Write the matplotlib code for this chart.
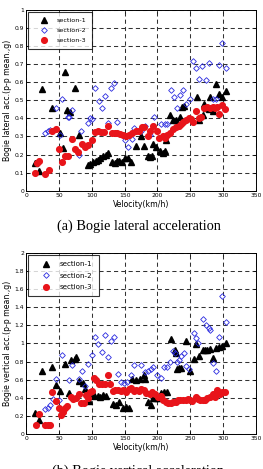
import matplotlib
matplotlib.use("Agg")
import matplotlib.pyplot as plt
from matplotlib.ticker import MultipleLocator, FuncFormatter

# ---------------- data: lateral (top) ----------------
lat_s1_v = [14, 20, 25, 40, 51, 56, 60, 63, 67, 75, 81,
            94, 98, 102, 106, 110, 113, 117, 121, 125,
            131, 135, 138, 142, 146, 151, 155, 160,
            167, 175, 179, 185, 188, 191, 194, 198, 204, 208, 211, 213,
            219, 224, 228, 234, 238, 241, 260, 264, 269, 271, 274, 278,
            280, 284, 289, 293, 298, 304]
lat_s1_y = [0.155, 0.11, 0.565, 0.46, 0.32, 0.235, 0.655, 0.445, 0.435, 0.57, 0.31,
            0.14, 0.15, 0.16, 0.165, 0.17, 0.18, 0.19, 0.2, 0.21,
            0.16, 0.155, 0.165, 0.165, 0.16, 0.18, 0.18, 0.16,
            0.25, 0.30, 0.25, 0.19, 0.185, 0.19, 0.26, 0.24, 0.22, 0.21, 0.22, 0.28,
            0.42, 0.39, 0.39, 0.41, 0.465, 0.47, 0.52, 0.39, 0.42, 0.48, 0.455, 0.45,
            0.52, 0.44, 0.59, 0.535, 0.52, 0.55]

lat_s2_v = [29, 33, 37, 45, 51, 55, 64, 65, 70, 80, 84, 95, 97, 100, 105, 111, 115,
            120, 125, 130, 134, 138, 151, 155, 161, 165, 175, 181, 189, 195, 206,
            211, 215, 220, 225, 230, 234, 239, 244, 249, 254, 259, 264, 268, 274,
            279, 284, 289, 294, 299, 304]
lat_s2_y = [0.317, 0.332, 0.336, 0.455, 0.31, 0.507, 0.41, 0.406, 0.446, 0.2, 0.33,
            0.376, 0.40, 0.395, 0.566, 0.498, 0.46, 0.525, 0.376, 0.566, 0.594,
            0.382, 0.28, 0.244, 0.284, 0.345, 0.33, 0.36, 0.31, 0.41, 0.37, 0.37,
            0.37, 0.56, 0.52, 0.46, 0.53, 0.555, 0.48, 0.505, 0.72, 0.68, 0.62,
            0.69, 0.61, 0.705, 0.51, 0.51, 0.695, 0.82, 0.68]

lat_s3_v = [14, 17, 20, 29, 35, 40, 45, 50, 55, 60, 64, 70, 75, 79, 85, 90, 95, 100,
            105, 110, 114, 119, 125, 131, 135, 139, 143, 147, 152, 157, 162, 167,
            172, 176, 179, 185, 189, 194, 200, 203, 208, 211, 215, 219, 224, 228,
            233, 236, 239, 244, 248, 251, 254, 259, 264, 267, 271, 276, 280, 284,
            288, 290, 294, 299, 303]
lat_s3_y = [0.10, 0.155, 0.166, 0.09, 0.114, 0.33, 0.343, 0.23, 0.16, 0.19, 0.19,
            0.284, 0.228, 0.215, 0.26, 0.243, 0.253, 0.28, 0.325, 0.33, 0.325,
            0.325, 0.358, 0.32, 0.32, 0.32, 0.315, 0.31, 0.30, 0.31, 0.32, 0.33,
            0.33, 0.355, 0.35, 0.30, 0.33, 0.36, 0.33, 0.29, 0.30, 0.29, 0.31,
            0.32, 0.34, 0.35, 0.36, 0.37, 0.38, 0.39, 0.40, 0.395, 0.38, 0.44,
            0.40, 0.41, 0.46, 0.465, 0.455, 0.465, 0.46, 0.465, 0.425, 0.475, 0.45]

# ---------------- data: vertical (bottom) ----------------
ver_s1_v = [14, 20, 24, 40, 45, 51, 60, 65, 69, 74, 76, 81, 86, 90, 96, 100, 104,
            109, 113, 117, 122, 132, 137, 142, 147, 152, 157, 161, 167, 173, 179,
            181, 185, 190, 194, 198, 201, 205, 210, 214, 220, 226, 229, 230, 233,
            236, 244, 250, 255, 259, 264, 269, 273, 276, 280, 284, 289, 293, 298, 304]
ver_s1_y = [0.23, 0.155, 0.69, 0.735, 0.535, 0.477, 0.776, 0.45, 0.82, 0.83, 0.845,
            0.587, 0.56, 0.5, 0.367, 0.42, 0.43, 0.42, 0.41, 0.43, 0.42, 0.33,
            0.32, 0.35, 0.28, 0.30, 0.29, 0.61, 0.60, 0.61, 0.655, 0.61, 0.35,
            0.315, 0.4, 0.4, 0.4, 0.45, 0.46, 0.46, 1.055, 0.925, 0.9, 0.72, 0.73,
            0.73, 1.03, 0.69, 0.83, 0.99, 0.86, 0.93, 0.93, 0.93, 0.94, 0.84,
            0.955, 0.96, 0.975, 1.01]

ver_s2_v = [29, 33, 36, 41, 45, 50, 55, 65, 70, 80, 85, 90, 95, 100, 105, 110, 115,
            120, 125, 130, 134, 140, 145, 149, 153, 160, 165, 175, 181, 185, 190,
            194, 200, 205, 210, 214, 219, 224, 226, 230, 233, 236, 240, 244, 248,
            255, 259, 261, 269, 274, 278, 280, 284, 289, 294, 299, 304]
ver_s2_y = [0.27, 0.29, 0.32, 0.39, 0.61, 0.37, 0.875, 0.59, 0.76, 0.61, 0.70,
            0.525, 0.77, 0.87, 1.07, 0.99, 0.905, 1.09, 0.845, 1.03, 1.07, 0.66,
            0.57, 0.56, 0.57, 0.65, 0.765, 0.765, 0.68, 0.7, 0.72, 0.74, 0.655,
            0.62, 0.735, 0.74, 0.79, 0.92, 0.9, 0.79, 0.82, 0.86, 0.9, 0.75, 0.72,
            1.12, 1.06, 1.01, 1.27, 1.2, 1.17, 1.15, 0.78, 0.7, 1.07, 1.53, 1.24]

ver_s3_v = [15, 20, 29, 33, 36, 40, 45, 50, 53, 57, 60, 63, 68, 72, 76, 80, 84, 89,
            92, 95, 97, 100, 104, 107, 111, 115, 120, 125, 128, 132, 136, 140, 144,
            148, 152, 156, 160, 164, 168, 172, 175, 179, 183, 188, 191, 196, 201,
            205, 209, 213, 216, 220, 224, 228, 231, 235, 239, 243, 246, 250, 253,
            258, 261, 265, 269, 273, 276, 280, 284, 288, 290, 295, 299, 303]
ver_s3_y = [0.10, 0.22, 0.10, 0.095, 0.095, 0.46, 0.36, 0.28, 0.21, 0.24, 0.28,
            0.31, 0.41, 0.39, 0.40, 0.44, 0.34, 0.34, 0.43, 0.40, 0.46, 0.47,
            0.62, 0.6, 0.55, 0.55, 0.55, 0.65, 0.55, 0.47, 0.48, 0.48, 0.47,
            0.48, 0.46, 0.49, 0.51, 0.47, 0.48, 0.47, 0.49, 0.48, 0.45, 0.44,
            0.46, 0.44, 0.41, 0.42, 0.37, 0.35, 0.34, 0.34, 0.35, 0.35, 0.37,
            0.375, 0.37, 0.375, 0.385, 0.375, 0.36, 0.41, 0.385, 0.375, 0.37,
            0.375, 0.395, 0.41, 0.44, 0.41, 0.48, 0.435, 0.46, 0.46]

labels = ["section-1", "section-2", "section-3"]
x_ticks_step = 50

fig = plt.figure(figsize=(2.63, 4.69), dpi=100)
fig.patch.set_facecolor("white")


def draw(ax, s1, s2, s3, ymax, ystep, ylabel, fmt, legfs):
    ax.plot(s1[0], s1[1], linestyle="none", marker="^", color="black",
            markersize=4.0, label=labels[0])
    ax.plot(s2[0], s2[1], linestyle="none", marker="D", markerfacecolor="none",
            markeredgecolor="#2a2ae0", markeredgewidth=0.6, markersize=2.9,
            label=labels[1])
    ax.plot(s3[0], s3[1], linestyle="none", marker="o", color="#e8141a",
            markersize=4.1, label=labels[2])
    ax.set_xlim(0, 350)
    ax.set_ylim(0, ymax)
    ax.xaxis.set_major_locator(MultipleLocator(x_ticks_step))
    ax.yaxis.set_major_locator(MultipleLocator(ystep))
    ax.yaxis.set_major_formatter(FuncFormatter(fmt))
    ax.grid(True, color="#333333", linestyle=(0, (4, 3)), linewidth=0.75)
    ax.tick_params(direction="in", length=2, width=0.5, labelsize=4.3,
                   pad=1.5, top=True, right=True)
    for s in ax.spines.values():
        s.set_linewidth(0.7)
    ax.set_xlabel("Velocity(km/h)", fontsize=5.6, labelpad=1.5)
    ax.set_ylabel(ylabel, fontsize=5.6, labelpad=1.5)
    leg = ax.legend(loc="upper left", fontsize=legfs, frameon=True, fancybox=False,
                    borderpad=0.9, handletextpad=0.2, labelspacing=0.75,
                    handlelength=3.4, borderaxespad=0.25, markerscale=1.0)
    leg.get_frame().set_edgecolor("black")
    leg.get_frame().set_linewidth(0.8)


def fmt_g(v, pos):
    s = f"{v:.1f}"
    if s.endswith(".0"):
        s = s[:-2]
    return s


ax1 = fig.add_axes([0.0989, 0.5934, 0.8745, 0.3853])
draw(ax1, (lat_s1_v, lat_s1_y), (lat_s2_v, lat_s2_y), (lat_s3_v, lat_s3_y),
     1.0, 0.1, "Bogie lateral acc.(p-p mean.,g)", fmt_g, 4.6)

ax2 = fig.add_axes([0.0989, 0.0753, 0.8745, 0.3846])
draw(ax2, (ver_s1_v, ver_s1_y), (ver_s2_v, ver_s2_y), (ver_s3_v, ver_s3_y),
     2.0, 0.2, "Bogie vertical acc.(p-p mean.,g)", fmt_g, 5.1)

fig.text(0.53, 0.517, "(a) Bogie lateral acceleration", ha="center", va="center",
         fontsize=10.3, family="Liberation Serif")
fig.text(0.525, 0.009, "(b) Bogie vertical acceleration", ha="center", va="top",
         fontsize=10.3, family="Liberation Serif")

fig.savefig("out.png", dpi=100)
